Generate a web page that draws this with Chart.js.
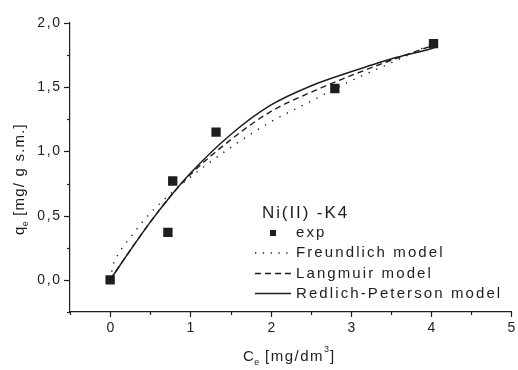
<!DOCTYPE html>
<html>
<head>
<meta charset="utf-8">
<script src="https://cdn.jsdelivr.net/npm/chart.js@4.4.0/dist/chart.umd.min.js"></script>
<style>
html,body{margin:0;padding:0;background:#fff;}
#chart{display:block;}
</style>
</head>
<body>
<canvas id="chart" width="518" height="370"></canvas>
<script>
// experimental points
var expC=[0,0.72,0.78,1.32,2.8,4.03];
var expQ=[0,0.37,0.77,1.15,1.49,1.84];
// model curves
var freundlichC=[0,0.04,0.1,0.25,0.5,0.75,1,1.5,2,2.5,3,3.5,4,4.05];
var freundlichQ=[0,0.12,0.2,0.33,0.52,0.67,0.8,1.03,1.23,1.39,1.55,1.69,1.84,1.86];
var langmuirC=[0,0.25,0.5,0.75,1,1.5,2,2.5,3,3.5,4,4.05];
var langmuirQ=[0,0.23,0.45,0.65,0.82,1.09,1.31,1.46,1.59,1.71,1.82,1.83];
var redlichC=[0,0.25,0.5,0.75,1,1.5,2,2.5,3,3.5,4,4.05];
var redlichQ=[0,0.23,0.45,0.65,0.83,1.13,1.36,1.51,1.62,1.72,1.80,1.81];
var legendTitle="Ni(II) -K4";
var legendLabels=["exp","Freundlich model","Langmuir model","Redlich-Peterson model"];

var ink="#1e1e1e";
var FONT="'Liberation Sans', Arial, sans-serif";

function pts(xs,ys){return xs.map(function(x,i){return {x:x,y:ys[i]};});}

// draws text with letter spacing, without the trailing gap
function txt(ctx,s,x,y,size,sp,align){
  ctx.font=size+"px "+FONT;
  ctx.letterSpacing=sp+"px";
  var w=ctx.measureText(s).width-sp;
  var x0=x;
  if(align=="right")x0=x-w;
  else if(align=="center")x0=x-w/2;
  ctx.textAlign="left";
  ctx.fillText(s,x0,y);
  return x0+w+sp;
}

var decor={
  id:"decor",
  afterDraw:function(chart){
    var ctx=chart.ctx,xs=chart.scales.x,ys=chart.scales.y;
    var left=chart.chartArea.left,bottom=chart.chartArea.bottom;
    ctx.save();
    ctx.strokeStyle=ink;ctx.fillStyle=ink;ctx.lineWidth=1.2;
    ctx.textBaseline="middle";
    ys.ticks.forEach(function(t){
      var p=Math.round(ys.getPixelForValue(t.value))+0.5;
      var major=Math.abs(t.value*2-Math.round(t.value*2))<1e-6;
      ctx.beginPath();ctx.moveTo(left,p);ctx.lineTo(left-(major?6:3),p);ctx.stroke();
      if(major)txt(ctx,t.value.toFixed(1).replace(".",","),60,p,14,1.6,"right");
    });
    xs.ticks.forEach(function(t){
      var p=Math.round(xs.getPixelForValue(t.value))+0.5;
      var major=Math.abs(t.value-Math.round(t.value))<1e-6;
      ctx.beginPath();ctx.moveTo(p,bottom);ctx.lineTo(p,bottom+(major?5:3));ctx.stroke();
      if(major&&t.value>=0)txt(ctx,String(Math.round(t.value)),p,bottom+16,14,1.6,"center");
    });
    // x title
    var x=txt(ctx,"C",243,357,15,1.5,"left");
    x=txt(ctx,"e",x-1,363,9,0,"left");
    x=txt(ctx," [mg/dm",x,357,15,1.5,"left");
    x=txt(ctx,"3",x,350,9,0,"left");
    txt(ctx,"]",x+1,357,15,1.5,"left");
    // y title
    ctx.save();
    ctx.translate(20,235);ctx.rotate(-Math.PI/2);
    x=txt(ctx,"q",0,0,15,1.5,"left");
    x=txt(ctx,"e",x-1,6,9,0,"left");
    txt(ctx," [mg/ g s.m.]",x,0,15,1.2,"left");
    ctx.restore();
    // legend
    txt(ctx,legendTitle,262,213,17,1.9,"left");
    var rows=[233,253,273.5,293.5];
    var tx=296;
    ctx.fillRect(270,rows[0]-3,6,6);
    ctx.lineWidth=1.3;
    [[1.3,6.5],[6,4],[]].forEach(function(d,i){
      ctx.setLineDash(d);
      ctx.beginPath();ctx.moveTo(255,rows[i+1]);ctx.lineTo(291,rows[i+1]);ctx.stroke();
    });
    ctx.setLineDash([]);
    legendLabels.forEach(function(l,i){txt(ctx,l,tx,rows[i],15,2.1,"left");});
    ctx.restore();
  }
};

var chart=new Chart(document.getElementById("chart"),{
  type:"scatter",
  data:{
    datasets:[
      {label:legendLabels[1],data:pts(freundlichC,freundlichQ),showLine:true,borderColor:ink,borderWidth:1.4,borderDash:[1.3,7],pointRadius:0,cubicInterpolationMode:"monotone"},
      {label:legendLabels[2],data:pts(langmuirC,langmuirQ),showLine:true,borderColor:ink,borderWidth:1.4,borderDash:[6,4],pointRadius:0,cubicInterpolationMode:"monotone"},
      {label:legendLabels[3],data:pts(redlichC,redlichQ),showLine:true,borderColor:ink,borderWidth:1.5,pointRadius:0,cubicInterpolationMode:"monotone"},
      {label:legendLabels[0],data:pts(expC,expQ),pointStyle:"rect",pointRadius:6.6,pointBorderWidth:0,backgroundColor:ink,borderColor:ink}
    ]
  },
  options:{
    responsive:false,
    devicePixelRatio:1,
    animation:false,
    layout:{padding:{left:70,right:1,top:23,bottom:58}},
    plugins:{legend:{display:false},tooltip:{enabled:false}},
    scales:{
      x:{type:"linear",min:-0.5,max:5,
         ticks:{display:false,stepSize:0.5},
         grid:{display:false},
         border:{display:true,color:ink,width:1.2},
         afterFit:function(s){s.height=0;}},
      y:{type:"linear",min:-0.25,max:2,
         ticks:{display:false,stepSize:0.25},
         grid:{display:false},
         border:{display:true,color:ink,width:1.2},
         afterFit:function(s){s.width=0;}}
    }
  },
  plugins:[decor]
});
</script>
</body>
</html>
